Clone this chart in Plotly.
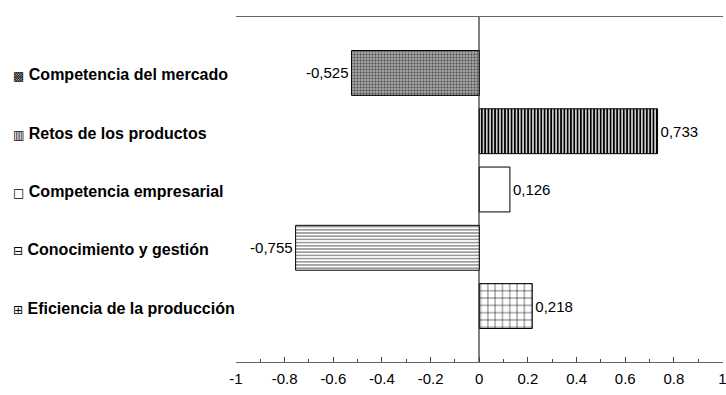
import plotly.graph_objects as go

categories = ["Competencia del mercado", "Retos de los productos", "Competencia empresarial",
              "Conocimiento y gestión", "Eficiencia de la producción"]
values = [-0.525, 0.733, 0.126, -0.755, 0.218]
value_labels = ["-0,525", "0,733", "0,126", "-0,755", "0,218"]
legend_symbols = ["▩", "▥", "□", "⊟", "⊞"]
x_ticks = [-1, -0.8, -0.6, -0.4, -0.2, 0, 0.2, 0.4, 0.6, 0.8, 1]
x_ticklabels = ["-1", "-0.8", "-0.6", "-0.4", "-0.2", "0", "0.2", "0.4", "0.6", "0.8", "1"]

pat_shapes = [".", "|", "", "-", "+"]
pat_fg = ["#4a4a4a", "#000000", "#000000", "#555555", "#000000"]
pat_bg = ["#a4a4a4", "#ffffff", "#ffffff", "#ffffff", "#ffffff"]
pat_size = [3, 3.3, 8, 3.2, 7.3]
pat_sol = [0.35, 0.6, 0.1, 0.3, 0.14]

fig = go.Figure()
for cat, val, lab, shp, fg, bg, sz, so in zip(categories, values, value_labels,
                                              pat_shapes, pat_fg, pat_bg, pat_size, pat_sol):
    fig.add_trace(go.Bar(
        y=[cat], x=[val], orientation="h",
        text=[lab], textposition="outside", cliponaxis=False,
        textfont=dict(family="Liberation Sans, Arial", size=15, color="black"),
        marker=dict(
            color=bg,
            line=dict(color="black", width=1),
            pattern=dict(shape=shp, fgcolor=fg, bgcolor=bg, size=sz, solidity=so,
                         fillmode="replace"),
        ),
        width=0.77,
        showlegend=False,
    ))

for cat, sym in zip(categories, legend_symbols):
    fig.add_annotation(
        x=-0.462, xref="paper", y=cat, yref="y", yshift=-2,
        text=f"<span style='font-size:12px;font-family:DejaVu Sans'>{sym}</span> <b>{cat}</b>",
        showarrow=False, xanchor="left", yanchor="middle",
        font=dict(family="Liberation Sans, Arial", size=16, color="black"),
    )

fig.update_layout(
    width=726, height=395,
    margin=dict(l=236, r=3, t=17, b=33, autoexpand=False),
    barmode="overlay",
    paper_bgcolor="white", plot_bgcolor="white",
    font=dict(family="Liberation Sans, Arial", size=15, color="black"),
    xaxis=dict(
        range=[-1, 1.002], tickvals=x_ticks, ticktext=x_ticklabels,
        showgrid=False, zeroline=True, zerolinecolor="#808080", zerolinewidth=1.5,
        showline=True, linecolor="#666666", linewidth=1, mirror=True,
        ticks="inside", ticklen=5, tickcolor="#444444", tickwidth=1,
        minor=dict(dtick=0.1, tick0=0, ticks="inside", ticklen=3, tickcolor="#444444"),
        tickfont=dict(size=15, color="black"),
        ticklabeloverflow="allow", ticklabelstandoff=3,
    ),
    yaxis=dict(
        type="category", categoryorder="array", categoryarray=categories,
        range=[4.96, -0.96], showticklabels=False, showgrid=False,
        showline=False, zeroline=False, ticks="",
    ),
)

fig.write_html(
    "out.html",
    config={"displayModeBar": False},
    post_script="document.body.style.margin='0';document.body.style.overflow='hidden';",
)
